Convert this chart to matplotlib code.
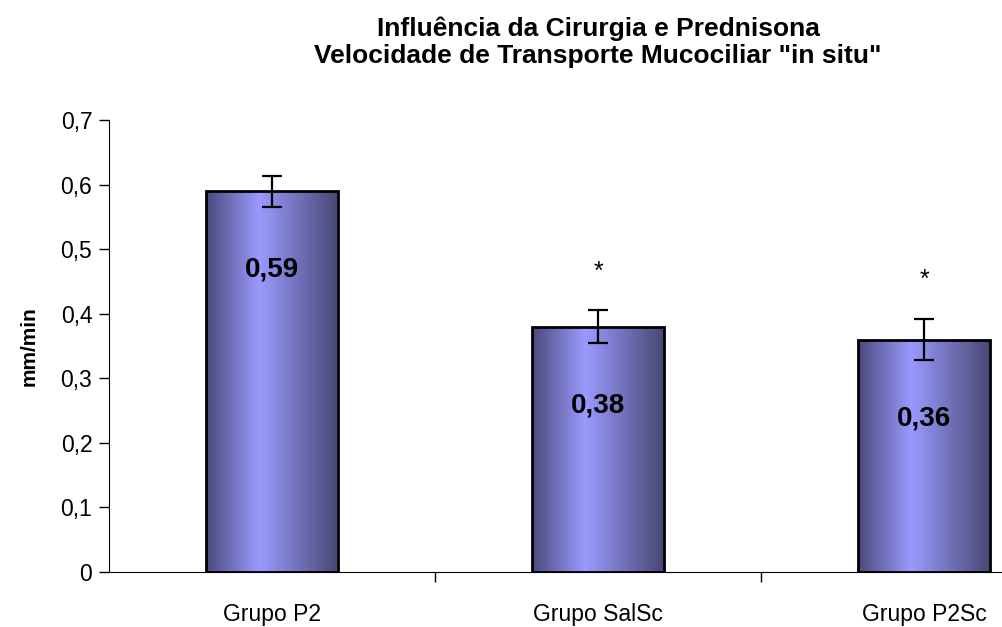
import numpy as np
import matplotlib
matplotlib.use("Agg")
import matplotlib.pyplot as plt
from matplotlib.colors import LinearSegmentedColormap
from matplotlib.patches import Rectangle

plt.rcParams['font.family'] = ['Liberation Sans', 'DejaVu Sans']

# data
groups = ["Grupo P2", "Grupo SalSc", "Grupo P2Sc"]
values = [0.59, 0.38, 0.36]
errors = [0.024, 0.025, 0.032]
value_labels = ["0,59", "0,38", "0,36"]
significant = [False, True, True]
yticks = [0, 0.1, 0.2, 0.3, 0.4, 0.5, 0.6, 0.7]
ytick_labels = ["0", "0,1", "0,2", "0,3", "0,4", "0,5", "0,6", "0,7"]
title_lines = ["Influência da Cirurgia e Prednisona",
               "Velocidade de Transporte Mucociliar \"in situ\""]

W, H = 1003, 627
fig = plt.figure(figsize=(W / 100, H / 100), dpi=100)
# the original is cropped on the right, so the axes run past the figure edge
ax = fig.add_axes([109 / W, 1 - 572 / H, (1087 - 109) / W, (572 - 120) / H])

# horizontal shading like the excel gradient fill
grad = LinearSegmentedColormap.from_list(
    "barfill", [(0.0, "#4a4a7c"), (0.4, "#9a9aff"), (1.0, "#474772")])
strip = np.linspace(0, 1, 256).reshape(1, -1)

width = 0.405
x = np.arange(len(groups))
bars = ax.bar(x, values, width, facecolor="none", edgecolor="black",
              linewidth=2, zorder=3)
for b in bars:
    x0, y0 = b.get_x(), b.get_y()
    w, h = b.get_width(), b.get_height()
    im = ax.imshow(strip, cmap=grad, aspect="auto",
                   extent=[x0, x0 + w, y0, y0 + h], zorder=2)
    im.set_clip_path(Rectangle((x0, y0), w, h, transform=ax.transData))

ax.errorbar(x, values, yerr=errors, fmt="none", ecolor="black",
            elinewidth=1.6, capsize=7, capthick=1.6, zorder=4)

for xi, v, e, lab, sig in zip(x, values, errors, value_labels, significant):
    ax.text(xi, v - 0.122, lab, ha="center", va="center", fontsize=20,
            fontweight="bold", zorder=5)
    if sig:
        ax.text(xi, v + e + 0.06, "*", ha="center", va="center",
                fontsize=18, zorder=5)

ax.set_xlim(-0.5, 2.5)
ax.set_ylim(0, 0.7)
ax.set_yticks(yticks)
ax.set_yticklabels(ytick_labels, fontsize=16.5)
ax.set_xticks([0.5, 1.5])
ax.set_xticklabels([])
ax.tick_params(axis="y", length=7, width=1, direction="out", pad=5)
ax.tick_params(axis="x", length=7, width=1, direction="out")
for xi, g in zip(x, groups):
    ax.text(xi, -0.066, g, ha="center", va="center", fontsize=16.5,
            clip_on=False)

ax.spines["top"].set_visible(False)
ax.spines["right"].set_visible(False)
ax.set_ylabel("mm/min", fontsize=15, fontweight="bold", labelpad=16)

fig.text(598 / W, 1 - 36 / H, title_lines[0], ha="center", va="baseline",
         fontsize=19, fontweight="bold")
fig.text(598 / W, 1 - 63 / H, title_lines[1], ha="center", va="baseline",
         fontsize=19, fontweight="bold")

fig.savefig("out.png", dpi=100)
